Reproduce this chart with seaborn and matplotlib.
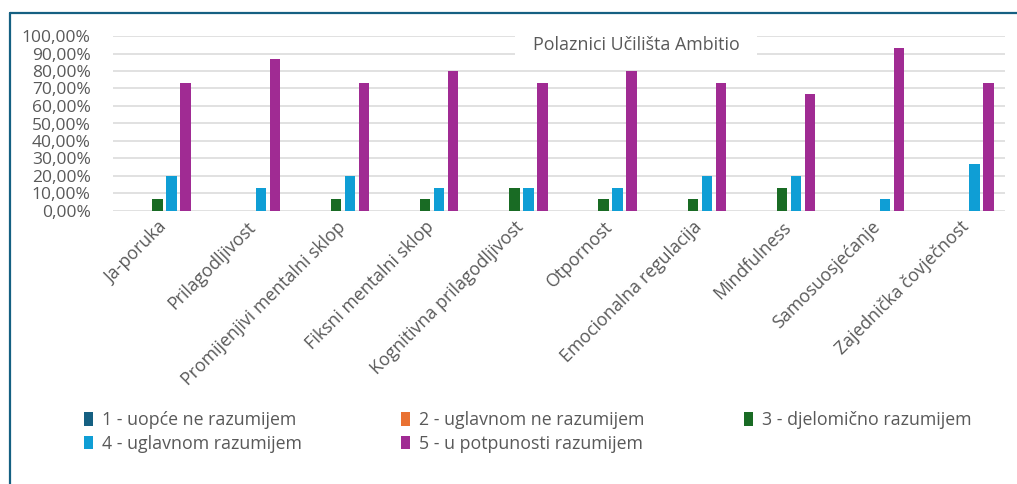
import pandas as pd
import matplotlib
matplotlib.use("Agg")
import matplotlib.pyplot as plt
import seaborn as sns
from matplotlib.patches import Rectangle
from matplotlib.lines import Line2D
from matplotlib.ticker import FuncFormatter

# ------------------------------
# Data (share of respondents)
# ------------------------------
categories = ["Ja-poruka", "Prilagodljivost", "Promijenjivi mentalni sklop",
              "Fiksni mentalni sklop", "Kognitivna prilagodljivost", "Otpornost",
              "Emocionalna regulacija", "Mindfulness", "Samosuosjećanje",
              "Zajednička čovječnost"]

series_names = ["1 - uopće ne razumijem", "2 - uglavnom ne razumijem",
                "3 - djelomično razumijem", "4 - uglavnom razumijem",
                "5 - u potpunosti razumijem"]

s1 = [0, 0, 0, 0, 0, 0, 0, 0, 0, 0]
s2 = [0, 0, 0, 0, 0, 0, 0, 0, 0, 0]
s3 = [0.0667, 0, 0.0667, 0.0667, 0.1333, 0.0667, 0.0667, 0.1333, 0, 0]
s4 = [0.2, 0.1333, 0.2, 0.1333, 0.1333, 0.1333, 0.2, 0.2, 0.0667, 0.2667]
s5 = [0.7333, 0.8667, 0.7333, 0.8, 0.7333, 0.8, 0.7333, 0.6667, 0.9333, 0.7333]

colors = ["#156082", "#E97132", "#196B24", "#0F9ED5", "#A02B93"]
title = "Polaznici Učilišta Ambitio"

rows = []
for name, vals in zip(series_names, [s1, s2, s3, s4, s5]):
    for cat, v in zip(categories, vals):
        rows.append({"kategorija": cat, "odgovor": name, "udio": v})
df = pd.DataFrame(rows)

# ------------------------------
# Plot
# ------------------------------
sns.set_style("white")
plt.rcParams["font.family"] = ["Open Sans", "DejaVu Sans"]

fig = plt.figure(figsize=(10.17, 4.84), dpi=100)
ax = fig.add_axes([113 / 1017, 1 - 211 / 484, 892 / 1017, 175 / 484])

sns.barplot(data=df, x="kategorija", y="udio", hue="odgovor",
            hue_order=series_names, order=categories, palette=colors,
            width=0.785, gap=0.25, linewidth=0, saturation=1, ax=ax, zorder=3)

ax.set_ylim(0, 1)
ax.set_xlim(-0.5, len(categories) - 0.5)
ax.set_yticks([i / 10 for i in range(11)])
ax.yaxis.set_major_formatter(FuncFormatter(lambda v, p: f"{v * 100:.2f}%".replace(".", ",")))
ax.yaxis.grid(True, color="#D9D9D9", linewidth=1.1, zorder=0)
ax.set_axisbelow(True)
for sp in ax.spines.values():
    sp.set_visible(False)
ax.set_xlabel("")
ax.set_ylabel("")
ax.tick_params(axis="y", length=0, pad=16, labelsize=12.5, labelcolor="#595959")
ax.tick_params(axis="x", length=0, pad=5, labelsize=12.8, labelcolor="#595959")
plt.setp(ax.get_xticklabels(), rotation=45, ha="right", rotation_mode="anchor")

# title box over the plot area
ax.add_patch(Rectangle((0.4507, 0.86), 0.271, 0.18, transform=ax.transAxes,
                       facecolor="white", edgecolor="none", zorder=4, clip_on=False))
ax.text(0.5862, 0.95, title, transform=ax.transAxes, ha="center", va="center",
        fontsize=12.9, color="#595959", zorder=5)

# legend (row-major order like Excel)
handles, labels = ax.get_legend_handles_labels()
ax.get_legend().remove()
order = [0, 3, 1, 4, 2]
fig.legend([handles[i] for i in order], [labels[i] for i in order],
           loc="upper left", bbox_to_anchor=(84 / 1017, 1 - 411 / 484),
           ncol=3, frameon=False, fontsize=12.8, labelcolor="#595959",
           handlelength=0.5, handleheight=0.8, handletextpad=0.5,
           columnspacing=5.6, labelspacing=0.32, borderaxespad=0, borderpad=0)

# chart frame (top and left edge visible)
fig.add_artist(Line2D([10 / 1017, 1], [1 - 13 / 484, 1 - 13 / 484],
                      transform=fig.transFigure, color="#156082", linewidth=1.6))
fig.add_artist(Line2D([10 / 1017, 10 / 1017], [0, 1 - 13 / 484],
                      transform=fig.transFigure, color="#156082", linewidth=1.6))

fig.savefig("out.png", dpi=100)
